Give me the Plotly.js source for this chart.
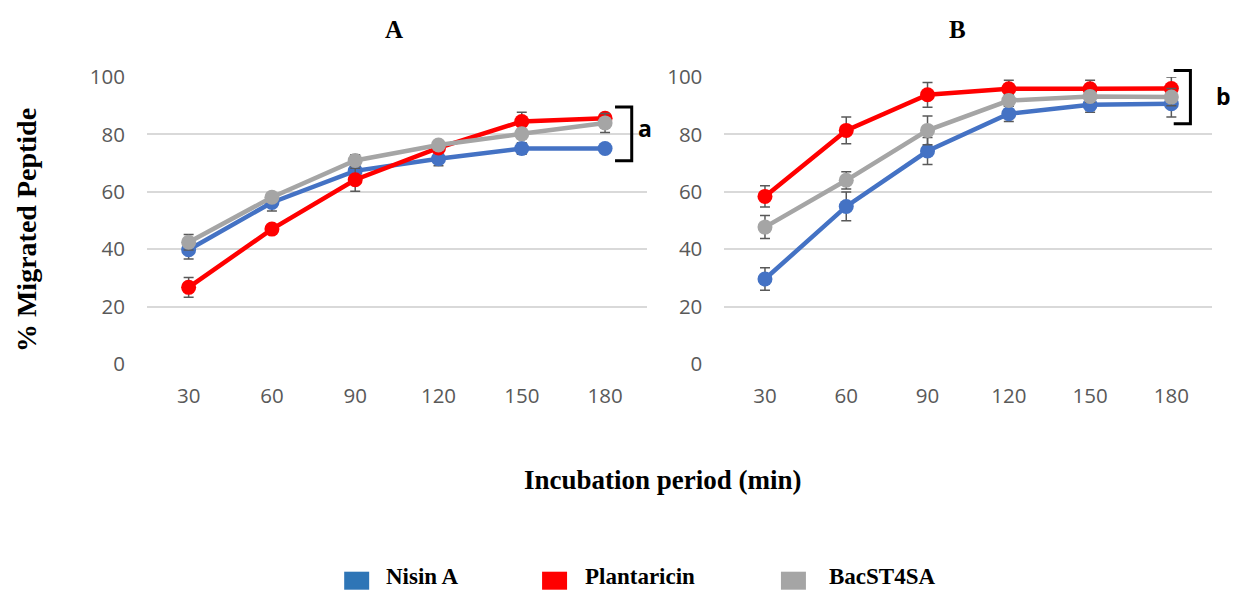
<!DOCTYPE html>
<html>
<head>
<meta charset="utf-8">
<script src="https://cdn.plot.ly/plotly-3.0.1.min.js"></script>
<style>html,body{margin:0;padding:0;background:#fff;}#chart{width:1235px;height:592px;}</style>
</head>
<body>
<div id="chart"></div>
<script>
const categories = ["30", "60", "90", "120", "150", "180"];
const seriesNames = ["Nisin A", "Plantaricin", "BacST4SA"];

// Panel A
const nisinA = [39.8, 56.3, 67.3, 71.5, 75.1, 75.1];
const nisinAErr = [3.2, 3.0, 2.0, 2.4, 2.0, 1.0];
const plantaricinA = [26.7, 47.0, 64.2, 75.3, 84.5, 85.6];
const plantaricinAErr = [3.4, 1.5, 4.0, 1.5, 3.2, 1.5];
const bacA = [42.4, 58.1, 70.9, 76.3, 80.2, 84.0];
const bacAErr = [2.7, 1.5, 2.0, 1.5, 1.5, 3.3];

// Panel B
const nisinB = [29.6, 54.9, 74.2, 87.2, 90.3, 90.7];
const nisinBErr = [3.9, 5.0, 4.7, 2.7, 2.6, 4.6];
const plantaricinB = [58.4, 81.4, 93.8, 95.9, 95.9, 96.0];
const plantaricinBErr = [3.7, 4.7, 4.3, 3.0, 3.0, 4.0];
const bacB = [47.7, 64.0, 81.4, 91.8, 93.2, 93.0];
const bacBErr = [4.0, 3.0, 5.0, 2.0, 2.0, 3.0];

const lineColors = ["#4472C4", "#FF0000", "#A5A5A5"];
const legendColors = ["#2E75B6", "#FF0000", "#A5A5A5"];

function mk(y, err, i, xa, ya) {
  return {
    x: categories, y: y, name: seriesNames[i], type: "scatter", mode: "lines+markers",
    xaxis: xa, yaxis: ya, showlegend: false, cliponaxis: false,
    line: {color: lineColors[i], width: 4.5},
    marker: {color: lineColors[i], size: 15},
    error_y: {type: "data", array: err, visible: true, color: "#595959", thickness: 1.5, width: 5}
  };
}

const data = [
  mk(nisinA, nisinAErr, 0, "x", "y"),
  mk(plantaricinA, plantaricinAErr, 1, "x", "y"),
  mk(bacA, bacAErr, 2, "x", "y"),
  mk(nisinB, nisinBErr, 0, "x2", "y2"),
  mk(plantaricinB, plantaricinBErr, 1, "x2", "y2"),
  mk(bacB, bacBErr, 2, "x2", "y2")
];

const tickFont = {family: "Open Sans, Liberation Sans, sans-serif", size: 20.5, color: "#595959"};
const serifBold = "Liberation Serif, Times New Roman, serif";

function xax(domain, anchor) {
  return {domain: domain, anchor: anchor, type: "category", range: [-0.5, 5.5],
    showgrid: false, showline: false, zeroline: false, ticks: "", ticklabelstandoff: 17,
    tickfont: tickFont, fixedrange: true};
}
function yax(anchor) {
  return {domain: [0, 1], anchor: anchor, range: [0, 100], dtick: 20, tick0: 0,
    showgrid: true, gridcolor: "#D9D9D9", gridwidth: 2, zeroline: false, showline: false,
    ticks: "", ticklabelstandoff: 21, tickfont: tickFont, fixedrange: true};
}

const W = 1065.6, H = 287, L = 146.7, B = 364.3;
const px = v => (v - L) / W;
const py = v => (B - v) / H;

const shapes = [
  {type: "path", xref: "paper", yref: "paper",
   path: `M ${px(615)},${py(107.3)} L ${px(631.7)},${py(107.3)} L ${px(631.7)},${py(161)} L ${px(615)},${py(161)}`,
   line: {color: "#000", width: 3}},
  {type: "path", xref: "paper", yref: "paper",
   path: `M ${px(1174)},${py(70.7)} L ${px(1190.7)},${py(70.7)} L ${px(1190.7)},${py(124)} L ${px(1174)},${py(124)}`,
   line: {color: "#000", width: 3}}
];

const legendX = [344, 542, 781];
const legendTextX = [384, 583, 827];
legendX.forEach((x, i) => {
  shapes.push({type: "rect", xref: "paper", yref: "paper",
    x0: px(x), x1: px(x + 25), y0: py(590), y1: py(572),
    fillcolor: legendColors[i], line: {width: 0}});
});

function ann(text, x, y, size, family, extra) {
  return Object.assign({text: text, xref: "paper", yref: "paper", x: px(x), y: py(y),
    xanchor: "center", yanchor: "middle", showarrow: false,
    font: {family: family, size: size, color: "#000", weight: "bold"}}, extra || {});
}

const annotations = [
  ann("A", 394, 30, 25, serifBold),
  ann("B", 958, 30, 25, serifBold),
  ann("% Migrated Peptide", 26, 230, 28, serifBold, {textangle: -90}),
  ann("Incubation period (min)", 663, 480, 27, serifBold),
  ann("a", 645, 128, 23, "Open Sans, Liberation Sans, sans-serif"),
  ann("b", 1224, 96, 23, "Open Sans, Liberation Sans, sans-serif")
];
legendTextX.forEach((x, i) => {
  annotations.push(ann(seriesNames[i], x, 591, 23, serifBold, {xanchor: "left", yanchor: "bottom"}));
});

const layout = {
  width: 1235, height: 592,
  margin: {l: L, r: 1235 - 1212.3, t: 77.3, b: 592 - B, pad: 0},
  paper_bgcolor: "#fff", plot_bgcolor: "#fff",
  showlegend: false,
  xaxis: xax([0, 0.4692], "y"),
  yaxis: yax("x"),
  xaxis2: xax([0.5421, 1], "y2"),
  yaxis2: yax("x2"),
  shapes: shapes,
  annotations: annotations
};

Plotly.newPlot("chart", data, layout, {staticPlot: true, displayModeBar: false});
</script>
</body>
</html>
